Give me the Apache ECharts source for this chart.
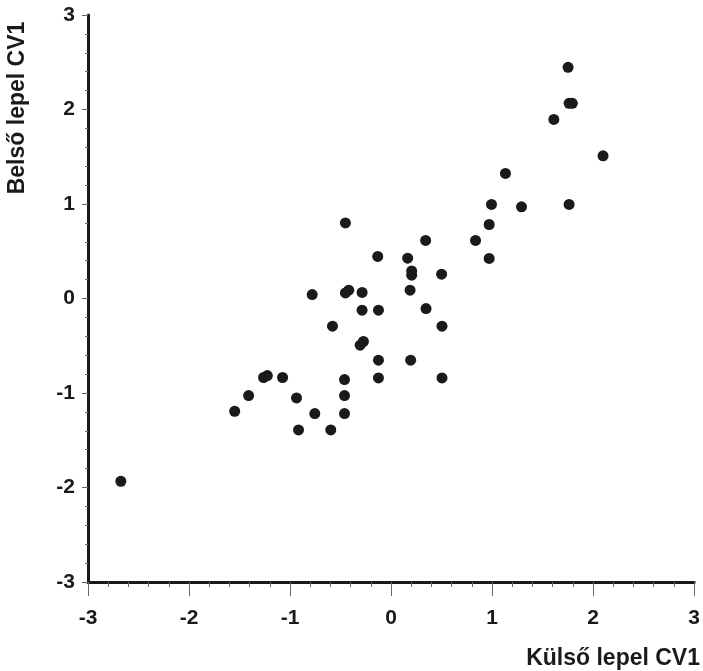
<!DOCTYPE html>
<html>
<head>
<meta charset="utf-8">
<script src="https://cdn.jsdelivr.net/npm/echarts@6/dist/echarts.min.js"></script>
<style>
  html, body { margin: 0; padding: 0; background: #fff; }
  #chart { width: 703px; height: 671px; }
</style>
</head>
<body>
<div id="chart"></div>
<script>
// Külső lepel CV1 (x) vs Belső lepel CV1 (y)
var kulsoCV1 = [
  -2.675, -1.548, -1.410, -1.262, -1.225, -1.074, -0.936, -0.916, -0.755, -0.597,
  -0.461, -0.461, -0.461, -0.781, -0.580, -0.452, -0.452, -0.419, -0.287, -0.287,
  -0.306, -0.274, -0.132, -0.125, -0.125, -0.125, 0.164, 0.204, 0.204, 0.188,
  0.194, 0.342, 0.346, 0.500, 0.504, 0.504, 0.836, 0.971, 0.971, 0.994,
  1.132, 1.291, 1.611, 1.752, 1.762, 1.794, 1.762, 2.098
];
var belsoCV1 = [
  -1.934, -1.193, -1.027, -0.836, -0.815, -0.836, -1.052, -1.391, -1.218, -1.391,
  -0.858, -1.027, -1.218, 0.042, -0.293, 0.800, 0.059, 0.088, 0.064, -0.124,
  -0.494, -0.455, 0.445, -0.124, -0.653, -0.841, 0.427, 0.292, 0.247, 0.088,
  -0.653, 0.614, -0.106, 0.257, -0.293, -0.841, 0.614, 0.783, 0.424, 0.995,
  1.323, 0.970, 1.895, 2.446, 2.065, 2.065, 0.995, 1.510
];
var xTitle = 'Külső lepel CV1';
var yTitle = 'Belső lepel CV1';

var points = kulsoCV1.map(function (x, i) {
  return [x, belsoCV1[i]];
});

var ink = '#1a1a1a';
var font = 'Liberation Sans, Arial, sans-serif';

var chart = echarts.init(document.getElementById('chart'), null, { renderer: 'canvas' });

var option = {
  backgroundColor: '#ffffff',
  animation: false,
  grid: { left: 88, right: 8, top: 15, bottom: 89, containLabel: false },
  xAxis: {
    type: 'value',
    min: -3, max: 3, interval: 1,
    axisLine: { show: true, onZero: false, lineStyle: { color: ink, width: 3 } },
    axisTick: { show: true, length: 14, lineStyle: { color: '#666', width: 1 } },
    minorTick: { show: true, splitNumber: 5, length: 5, lineStyle: { color: '#666', width: 1 } },
    splitLine: { show: false },
    axisLabel: { color: ink, fontSize: 21, fontWeight: 'bold', fontFamily: font, margin: 26 }
  },
  yAxis: {
    type: 'value',
    min: -3, max: 3, interval: 1,
    axisLine: { show: true, onZero: false, lineStyle: { color: ink, width: 3 } },
    axisTick: { show: true, length: 6, lineStyle: { color: '#666', width: 1 } },
    minorTick: { show: true, splitNumber: 5, length: 3, lineStyle: { color: '#666', width: 1 } },
    splitLine: { show: false },
    axisLabel: { color: ink, fontSize: 21, fontWeight: 'bold', fontFamily: font, margin: 13 }
  },
  graphic: [
    {
      type: 'text',
      right: 3,
      top: 647,
      style: { text: xTitle, fill: ink, font: 'bold 23px ' + font }
    },
    {
      type: 'text',
      x: 18,
      y: 108,
      rotation: Math.PI / 2,
      style: {
        text: yTitle, fill: ink, font: 'bold 23px ' + font,
        align: 'center', verticalAlign: 'middle'
      }
    }
  ],
  series: [{
    type: 'scatter',
    data: points,
    symbol: 'circle',
    symbolSize: 11,
    itemStyle: { color: ink, opacity: 1 }
  }]
};

chart.setOption(option);

window.addEventListener('resize', function () {
  chart.resize();
});
</script>
</body>
</html>
